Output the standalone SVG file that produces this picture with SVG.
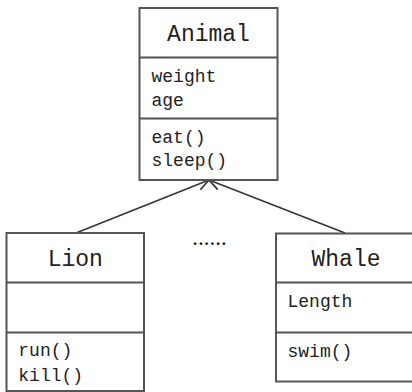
<svg xmlns="http://www.w3.org/2000/svg" width="412" height="392" viewBox="0 0 412 392">
<style>
.box{fill:#fff;stroke:#555;stroke-width:2}
.div{stroke:#555;stroke-width:2}
.title{font-family:"Liberation Mono","Courier New",monospace;font-size:23px;fill:#222;text-anchor:middle}
.mem{font-family:"Liberation Mono","Courier New",monospace;font-size:18px;fill:#222}
.conn{stroke:#333;stroke-width:1.5;fill:none}
</style>
<defs>
<marker id="open" markerUnits="userSpaceOnUse" markerWidth="14" markerHeight="14" viewBox="0 0 12 12" refX="11" refY="6" orient="auto">
<path d="M1,1 L11,6 L1,11" fill="none" stroke="#333" stroke-width="1.5"/>
</marker>
</defs>
<rect width="412" height="392" fill="#fff"/>
<g id="connectors">
<line class="conn" x1="76" y1="233" x2="209" y2="180" marker-end="url(#open)"/>
<line class="conn" x1="345" y1="233" x2="209" y2="180" marker-end="url(#open)"/>
</g>
<g id="Animal">
<rect class="box" x="139.5" y="8" width="138" height="172"/>
<line class="div" x1="139.5" y1="57.5" x2="277.5" y2="57.5"/>
<line class="div" x1="139.5" y1="118.5" x2="277.5" y2="118.5"/>
<text class="title" x="208.5" y="41">Animal</text>
<text class="mem" x="151.5" y="82">weight</text>
<text class="mem" x="151.5" y="105.5">age</text>
<text class="mem" x="151.5" y="142.5">eat()</text>
<text class="mem" x="151.5" y="166">sleep()</text>
</g>
<g id="Lion">
<rect class="box" x="6.5" y="233" width="137.5" height="158"/>
<line class="div" x1="6.5" y1="282.5" x2="144" y2="282.5"/>
<line class="div" x1="6.5" y1="332.5" x2="144" y2="332.5"/>
<text class="title" x="75.3" y="265.7">Lion</text>
<text class="mem" x="18.3" y="356">run()</text>
<text class="mem" x="18.3" y="380.5">kill()</text>
</g>
<g id="Whale">
<rect class="box" x="276" y="233.5" width="145" height="148"/>
<line class="div" x1="276" y1="282.5" x2="421" y2="282.5"/>
<line class="div" x1="276" y1="332.5" x2="421" y2="332.5"/>
<text class="title" x="346" y="265.7">Whale</text>
<text class="mem" x="287.5" y="306.5">Length</text>
<text class="mem" x="287.5" y="357">swim()</text>
</g>
<g id="ellipsis">
<text x="209.5" y="245" font-family="Liberation Serif,serif" font-size="23" fill="#111" text-anchor="middle">......</text>
</g>
</svg>
